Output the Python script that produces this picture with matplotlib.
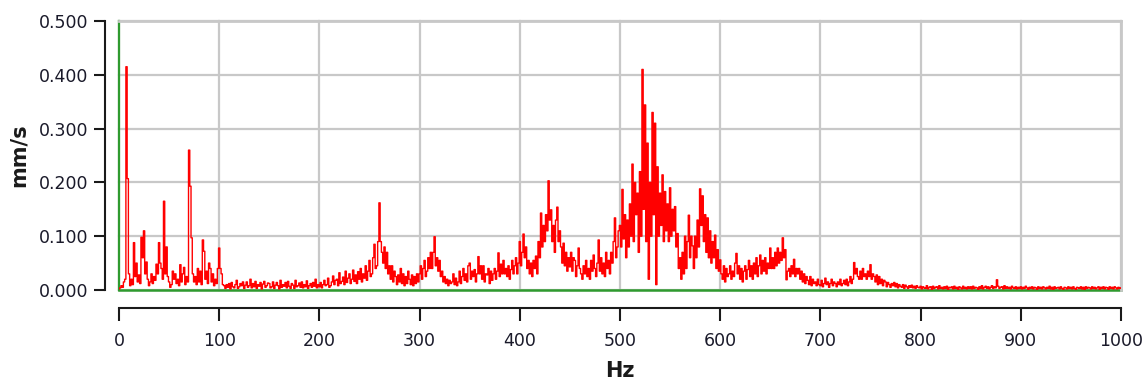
import numpy as np
import matplotlib
matplotlib.use("Agg")
import matplotlib.pyplot as plt

# Spectrum: one row per 50 Hz band, 40 lines of 1.25 Hz,
# amplitudes in 0.001 mm/s
row_span = 50.0
line_step = 1.25
amp_rows = [
    [2, 4, 8, 5, 15, 20, 415, 207, 30, 8, 20, 10, 88, 25, 50, 15, 28, 12, 98, 60,
     110, 30, 52, 20, 8, 15, 30, 12, 25, 18, 48, 30, 88, 50, 40, 20, 165, 30, 80, 25],
    [15, 5, 10, 35, 20, 30, 12, 20, 8, 47, 15, 30, 42, 10, 25, 15, 260, 193, 97, 30,
     15, 25, 10, 40, 15, 35, 10, 93, 72, 20, 35, 12, 50, 40, 15, 30, 8, 20, 12, 40],
    [78, 40, 30, 10, 8, 3, 10, 5, 12, 2, 14, 6, 4, 10, 18, 3, 6, 12, 8, 15,
     3, 9, 15, 5, 8, 20, 4, 12, 6, 16, 3, 10, 7, 14, 2, 11, 16, 5, 8, 13],
    [12, 4, 6, 15, 3, 9, 14, 8, 2, 18, 5, 10, 7, 14, 4, 16, 7, 3, 12, 9,
     3, 18, 6, 8, 13, 5, 15, 4, 10, 6, 17, 3, 8, 12, 5, 14, 7, 20, 4, 10],
    [6, 14, 4, 10, 18, 8, 10, 22, 5, 8, 15, 26, 10, 18, 20, 8, 32, 12, 16, 24,
     10, 35, 14, 22, 30, 12, 20, 37, 16, 28, 12, 34, 20, 40, 15, 30, 22, 45, 18, 35],
    [55, 25, 30, 60, 85, 40, 45, 90, 162, 90, 70, 50, 80, 40, 70, 30, 45, 20, 45, 15,
     35, 25, 10, 28, 15, 40, 12, 30, 8, 25, 12, 35, 20, 10, 28, 8, 25, 12, 30, 15],
    [30, 45, 20, 40, 55, 25, 35, 60, 40, 70, 40, 70, 99, 45, 60, 35, 55, 25, 35, 15,
     25, 12, 20, 8, 18, 12, 15, 30, 10, 22, 8, 15, 35, 12, 25, 40, 18, 30, 15, 45],
    [50, 20, 35, 25, 38, 15, 30, 62, 30, 45, 20, 45, 15, 30, 28, 40, 12, 35, 18, 30,
     40, 20, 35, 69, 25, 48, 30, 55, 30, 40, 25, 45, 20, 38, 55, 30, 45, 60, 30, 50],
    [90, 45, 70, 104, 60, 80, 40, 55, 30, 50, 25, 55, 40, 63, 30, 90, 60, 143, 80, 120,
     90, 140, 110, 203, 130, 149, 90, 120, 70, 130, 154, 90, 110, 80, 50, 87, 45, 70, 35, 60],
    [43, 70, 35, 60, 55, 25, 45, 78, 40, 30, 20, 45, 30, 55, 25, 40, 20, 55, 35, 65,
     40, 25, 50, 93, 35, 60, 30, 50, 25, 70, 40, 55, 30, 70, 50, 90, 134, 60, 80, 110],
    [120, 80, 187, 95, 140, 60, 130, 80, 160, 100, 234, 90, 200, 140, 180, 70, 220, 100, 410, 150,
     344, 90, 273, 20, 200, 100, 330, 140, 310, 10, 229, 100, 180, 120, 214, 90, 183, 110, 160, 90],
    [190, 100, 150, 110, 155, 80, 105, 40, 60, 20, 70, 30, 100, 40, 90, 139, 60, 100, 82, 40,
     100, 60, 130, 80, 188, 120, 175, 90, 140, 70, 134, 60, 110, 50, 90, 60, 102, 40, 75, 35],
    [56, 30, 20, 45, 15, 40, 25, 30, 45, 20, 35, 25, 50, 68, 30, 45, 20, 40, 15, 35,
     45, 20, 38, 55, 25, 45, 20, 50, 30, 60, 25, 45, 65, 30, 55, 35, 60, 30, 50, 40],
    [78, 40, 60, 40, 70, 45, 78, 50, 70, 55, 97, 60, 75, 19, 35, 40, 25, 45, 30, 57,
     25, 40, 30, 40, 20, 35, 15, 30, 12, 25, 18, 10, 25, 8, 20, 12, 15, 8, 20, 10],
    [8, 18, 6, 12, 22, 10, 15, 5, 12, 20, 8, 15, 12, 6, 15, 10, 20, 8, 12, 18,
     10, 20, 8, 15, 25, 12, 20, 51, 30, 40, 25, 20, 35, 20, 40, 25, 30, 20, 35, 25],
    [47, 20, 30, 25, 15, 28, 10, 25, 12, 20, 8, 18, 15, 6, 14, 10, 5, 12, 8, 14,
     6, 12, 4, 10, 7, 5, 10, 3, 9, 6, 3, 8, 5, 9, 4, 7, 3, 8, 5, 4],
    [7, 2, 6, 4, 3, 8, 2, 5, 6, 1, 7, 3, 5, 6, 2, 8, 3, 5, 2, 6,
     3, 7, 1, 5, 4, 6, 2, 7, 3, 5, 1, 6, 4, 2, 7, 3, 5, 2, 6, 3],
    [6, 2, 7, 3, 5, 4, 1, 6, 3, 8, 2, 5, 7, 3, 6, 2, 5, 8, 3, 6,
     4, 19, 7, 3, 5, 6, 2, 8, 3, 6, 3, 5, 2, 7, 4, 3, 6, 2, 5, 3],
    [6, 2, 5, 3, 7, 4, 1, 5, 3, 6, 2, 5, 4, 1, 6, 3, 5, 2, 6, 4,
     2, 5, 3, 7, 2, 5, 1, 6, 3, 4, 5, 2, 6, 3, 1, 5, 4, 2, 6, 3],
    [5, 2, 6, 3, 1, 5, 4, 3, 6, 2, 5, 1, 6, 3, 5, 4, 2, 6, 3, 5,
     2, 4, 6, 1, 5, 3, 6, 2, 5, 4, 1, 6, 3, 5, 2, 6, 4, 2, 5, 3],
    [4],
]
x_ticks = [0, 100, 200, 300, 400, 500, 600, 700, 800, 900, 1000]
y_ticks = [0.0, 0.1, 0.2, 0.3, 0.4, 0.5]
x_label = "Hz"
y_label = "mm/s"

freqs, amps = [], []
for r, row in enumerate(amp_rows):
    for i, v in enumerate(row):
        freqs.append(r * row_span + i * line_step)
        amps.append(v / 1000.0)
freqs = np.array(freqs)
amps = np.array(amps)

fig = plt.figure(figsize=(11.48, 3.83), dpi=100)
ax = fig.add_axes([119 / 1148, (383 - 290) / 383, 1002 / 1148, 269 / 383])

ax.set_xlim(0, 1000)
ax.set_ylim(0, 0.5)

grid_c = "#c8c8c8"
for xv in x_ticks:
    ax.axvline(xv, color=grid_c, lw=1.6, zorder=1, clip_on=False)
for yv in y_ticks:
    ax.axhline(yv, color=grid_c, lw=1.6, zorder=1, clip_on=False)

green = "#2f9a2f"
ax.axvline(0, color=green, lw=1.6, zorder=2, clip_on=False)
ax.axhline(0, color=green, lw=1.8, zorder=2, clip_on=False)

ax.plot(freqs, amps, color="#ff0000", lw=1.0, zorder=3, drawstyle="steps-mid")

for s in ["top", "right"]:
    ax.spines[s].set_color(grid_c)
    ax.spines[s].set_linewidth(2.0)
ax.spines["left"].set_position(("outward", 10))
ax.spines["bottom"].set_position(("outward", 13))
for s in ["left", "bottom"]:
    ax.spines[s].set_linewidth(1.5)
    ax.spines[s].set_color("#1a1a1a")

ax.set_xticks(x_ticks)
ax.set_xticklabels([str(v) for v in x_ticks])
ax.set_yticks(y_ticks)
ax.set_yticklabels([f"{v:.3f}" for v in y_ticks])
ax.tick_params(axis="x", length=9, width=1.5, color="#1a1a1a", pad=8,
               labelsize=12.5, labelcolor="#1a1a2a")
ax.tick_params(axis="y", length=8, width=1.5, color="#1a1a1a", pad=4,
               labelsize=12.5, labelcolor="#1a1a2a")

ax.set_xlabel(x_label, fontsize=15, fontweight="bold", labelpad=8, color="#1a1a1a")
ax.set_ylabel(y_label, fontsize=15, fontweight="bold", labelpad=7, color="#1a1a1a")

fig.savefig("out.png", dpi=100)
